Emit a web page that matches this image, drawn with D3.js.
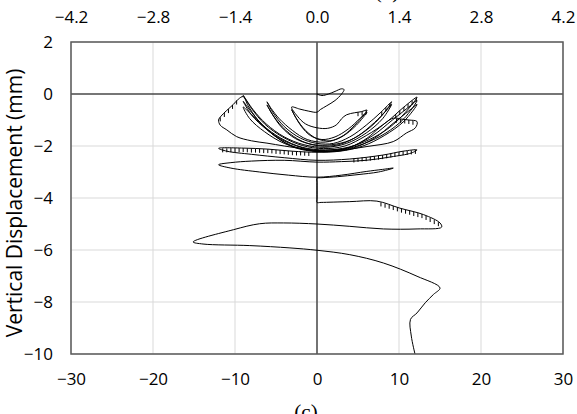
<!DOCTYPE html>
<html>
<head>
<meta charset="utf-8">
<script src="https://cdn.jsdelivr.net/npm/d3@7"></script>
<style>
  body { margin: 0; background: #fff; }
  text { font-family: "Open Sans", Lato, sans-serif; fill: #000; }
</style>
</head>
<body>
<svg id="chart" width="577" height="414"></svg>
<script>
// Axis ticks
const xTicks = [-30, -20, -10, 0, 10, 20, 30];
const topTicks = [-4.2, -2.8, -1.4, 0, 1.4, 2.8, 4.2];
const yTicks = [-10, -8, -6, -4, -2, 0, 2];

// Trace, split by loading stage: [horizontal mm, vertical mm]
const initialLoad = [
  [0, 0], [0.6, -0.06], [1.4, 0.0], [2.2, 0.1], [3.0, 0.2], [3.3, 0.17], [3.0, 0.0],
  [2.2, -0.25], [1.2, -0.45], [0.4, -0.6], [0.0, -0.7], [-1.0, -0.66], [-2.1, -0.58], [-3.1, -0.5]
];
const smallCycles = [
  [-2.4, -0.85], [-1.4, -1.15], [0, -1.3], [1.3, -1.32], [2.4, -1.18], [3.0, -0.95], [3.6, -0.8],
  [4.6, -0.72], [5.4, -0.68], [6.1, -0.62],
  [5.2, -0.95], [3.8, -1.35], [2.2, -1.65], [0.6, -1.75], [-0.8, -1.6], [-1.9, -1.25], [-2.6, -0.9], [-3.1, -0.6],
  [-2.5, -0.95], [-1.4, -1.4], [0, -1.72], [1.6, -1.8], [3.2, -1.6], [4.6, -1.2], [5.6, -0.85], [6.1, -0.7]
];
const midCycles = [
  [4.8, -1.2], [3, -1.65], [1, -1.85], [-1.2, -1.75], [-3, -1.4], [-4.6, -0.95], [-5.6, -0.55], [-6.1, -0.3],
  [-5.4, -0.7], [-4, -1.25], [-2, -1.7], [0, -1.9], [2, -1.9], [4, -1.65], [6, -1.2], [7.8, -0.7], [9.1, -0.3],
  [8, -0.8], [6.2, -1.35], [4, -1.78], [1.8, -1.95], [-0.4, -1.95], [-2.6, -1.72], [-4.4, -1.25], [-5.6, -0.7], [-6.1, -0.42],
  [-5.3, -0.85], [-3.8, -1.4], [-1.8, -1.82], [0.4, -2.0], [2.6, -1.95], [4.8, -1.65], [7, -1.1], [8.4, -0.65], [9.1, -0.4]
];
const largeCycles = [
  [8, -0.95], [6, -1.5], [3.6, -1.9], [1, -2.05], [-1.6, -1.95], [-4, -1.65], [-6.2, -1.15], [-7.8, -0.6], [-9, -0.05],
  [-8, -0.55], [-6.4, -1.15], [-4.2, -1.65], [-1.8, -1.98], [0.8, -2.1], [3.4, -2.0], [6, -1.6], [8.6, -1.05], [10.6, -0.5], [12.2, -0.12],
  [10.8, -0.7], [8.8, -1.3], [6.4, -1.75], [3.8, -2.05], [1, -2.15], [-1.8, -2.05], [-4.4, -1.7], [-6.6, -1.2], [-8, -0.7], [-9, -0.28],
  [-8, -0.8], [-6.2, -1.35], [-4, -1.8], [-1.4, -2.1], [1.2, -2.2], [4, -2.05], [6.8, -1.6], [9.2, -1.0], [11, -0.55], [12.2, -0.25],
  [10.6, -0.95], [8.4, -1.5], [5.8, -1.9], [3, -2.15], [0.2, -2.2], [-2.6, -2.05], [-5, -1.65], [-7, -1.1], [-8.3, -0.7], [-9, -0.5],
  [-8.2, -0.95], [-6.4, -1.45], [-4, -1.9], [-1.2, -2.15], [1.4, -2.22], [4.2, -2.1], [7, -1.7], [9.4, -1.1], [11.2, -0.65], [12.2, -0.4],
  [10.6, -1.05], [8.2, -1.6], [5.6, -2.0], [2.8, -2.2], [0, -2.22], [-2.8, -2.05], [-5.2, -1.6], [-7.2, -1.0], [-8.4, -0.45], [-9, -0.1]
];
const outerCycles = [
  [-9.6, -0.2], [-10.2, -0.4], [-11, -0.63], [-11.7, -0.85], [-12, -1.0], [-11.8, -1.2], [-11, -1.38], [-9.8, -1.64],
  [-8, -1.8], [-6.1, -1.89], [-4, -2.0], [-2.1, -2.09], [0, -2.17], [2, -2.15], [4, -2.05], [6.1, -1.7], [7.6, -1.3],
  [9.3, -0.93], [10.2, -0.96], [11.2, -1.0], [12.2, -1.06], [12, -1.3], [10.9, -1.5], [9.3, -1.83], [6.1, -2.02],
  [2, -2.2], [0, -2.24]
];
const flatLoops = [
  [-3, -2.2], [-6, -2.12], [-9, -2.08], [-12, -2.09], [-11, -2.2], [-8, -2.32], [-4, -2.45], [0, -2.55], [4, -2.5],
  [8, -2.35], [10.5, -2.2], [12.2, -2.15], [11.5, -2.27], [9, -2.42], [6, -2.55], [3, -2.6], [0, -2.62], [-4, -2.55],
  [-8, -2.58], [-10.5, -2.64], [-12, -2.72], [-10.5, -2.85], [-7, -3.0], [-3.5, -3.12], [0, -3.2], [3, -3.12],
  [6, -2.98], [8, -2.9], [9.3, -2.85], [7.5, -3.0], [5, -3.1], [2.5, -3.18], [0.6, -3.22], [0, -3.24]
];
const lowerCycles = [
  [0, -3.4], [0, -4.0], [0, -4.17], [0.5, -4.17], [4.0, -4.14], [7.3, -4.12], [10.1, -4.39], [13, -4.64], [15, -4.96],
  [15.2, -5.12], [12.2, -5.19], [8.1, -5.19], [4, -5.09], [0, -5.0], [-4.1, -4.96], [-7, -4.99], [-10.2, -5.22],
  [-15.1, -5.69], [-13.9, -5.77], [-8.2, -5.83], [-3.3, -5.92], [0, -6.01], [4, -6.18], [8.1, -6.5], [12.2, -7.01],
  [15, -7.46], [14.2, -7.71], [13.2, -8.03], [12.2, -8.42], [11.4, -8.67], [11.5, -9.31], [11.95, -10.0]
];

// Small downward jumps in the record (the hatched look on loading branches)
const teethLower = [
  [7.8, -4.17], [8.3, -4.22], [8.8, -4.26], [9.3, -4.31], [9.8, -4.36], [10.3, -4.41], [10.8, -4.45], [11.3, -4.49],
  [11.8, -4.54], [12.3, -4.58], [12.8, -4.62], [13.3, -4.69], [13.8, -4.77], [14.3, -4.85], [14.8, -4.93]
];
const teethUpperRight = [[9.6, -0.78], [10.1, -0.64], [10.6, -0.5], [11.1, -0.38], [11.6, -0.26], [12.1, -0.14]];
const teethMidRight = [[7.9, -0.67], [8.4, -0.51], [8.9, -0.36]];
const teethSmallRight = [[5.0, -0.7], [5.5, -0.67], [6.0, -0.63]];
const teethOuterRight = [[9.7, -0.95], [10.2, -0.96], [10.7, -0.98], [11.2, -1.0], [11.7, -1.03]];
const teethOuterLeft = [[-9.8, -0.25], [-10.3, -0.42], [-10.8, -0.58], [-11.3, -0.73], [-11.8, -0.9]];
const teethFlatLeft = [
  [-11.5, -2.09], [-11, -2.09], [-10.5, -2.08], [-10, -2.08], [-9.5, -2.08], [-9, -2.08], [-8.5, -2.09], [-8, -2.1],
  [-7.5, -2.1], [-7, -2.11], [-6.5, -2.12], [-6, -2.12], [-5.5, -2.13], [-5, -2.15], [-4.5, -2.16], [-4, -2.17],
  [-3.5, -2.19], [-3, -2.2], [-2.5, -2.21], [-2, -2.21], [-1.5, -2.22], [-1, -2.23]
];
const teethFlatRight = [
  [4.5, -2.48], [5, -2.46], [5.5, -2.44], [6, -2.43], [6.5, -2.41], [7, -2.39], [7.5, -2.37], [8, -2.35],
  [8.5, -2.32], [9, -2.29], [9.5, -2.26], [10, -2.23], [10.5, -2.2], [11, -2.19], [11.5, -2.17], [12, -2.15]
];

const svg = d3.select('#chart');
const margin = { top: 42, right: 14, bottom: 60, left: 71 };
const width = 577 - margin.left - margin.right;
const height = 414 - margin.top - margin.bottom;

const x = d3.scaleLinear().domain([-30, 30]).range([0, width]);
const xTop = d3.scaleLinear().domain([-4.2, 4.2]).range([0, width]);
const y = d3.scaleLinear().domain([-10, 2]).range([height, 0]);

const g = svg.append('g').attr('transform', `translate(${margin.left},${margin.top})`);

// Gridlines
g.append('g').selectAll('line')
  .data(xTicks)
  .join('line')
  .attr('x1', d => x(d)).attr('x2', d => x(d))
  .attr('y1', 0).attr('y2', height)
  .attr('stroke', '#d9d9d9').attr('stroke-width', 1);
g.append('g').selectAll('line')
  .data(yTicks)
  .join('line')
  .attr('x1', 0).attr('x2', width)
  .attr('y1', d => y(d)).attr('y2', d => y(d))
  .attr('stroke', '#d9d9d9').attr('stroke-width', 1);

// Zero lines
g.append('line')
  .attr('x1', x(0)).attr('x2', x(0)).attr('y1', 0).attr('y2', height)
  .attr('stroke', '#333').attr('stroke-width', 1.3);
g.append('line')
  .attr('x1', 0).attr('x2', width).attr('y1', y(0)).attr('y2', y(0))
  .attr('stroke', '#000').attr('stroke-width', 1.2);

// Trace
const trace = [].concat(initialLoad, smallCycles, midCycles, largeCycles, outerCycles, flatLoops, lowerCycles);
const line = d3.line()
  .x(d => x(d[0]))
  .y(d => y(d[1]))
  .curve(d3.curveCatmullRom.alpha(0.5));

g.append('path')
  .datum(trace)
  .attr('fill', 'none')
  .attr('stroke', '#000')
  .attr('stroke-width', 1)
  .attr('d', line);

const teeth = [].concat(teethLower, teethUpperRight, teethMidRight, teethSmallRight,
  teethOuterRight, teethOuterLeft, teethFlatLeft, teethFlatRight);
g.append('g').selectAll('line')
  .data(teeth)
  .join('line')
  .attr('x1', d => x(d[0])).attr('x2', d => x(d[0]))
  .attr('y1', d => y(d[1])).attr('y2', d => y(d[1]) + 4)
  .attr('stroke', '#000').attr('stroke-width', 1);

// Plot border
g.append('rect')
  .attr('width', width).attr('height', height)
  .attr('fill', 'none').attr('stroke', '#595959').attr('stroke-width', 1.5);

// Axes (labels only)
const styleAxis = sel => {
  sel.select('.domain').remove();
  sel.selectAll('.tick line').remove();
  sel.selectAll('text').attr('font-size', '17px').attr('fill', '#000')
    .style('font-family', '"Open Sans", Lato, sans-serif');
};

g.append('g')
  .attr('transform', `translate(0,${height})`)
  .call(d3.axisBottom(x).tickValues(xTicks).tickSize(0).tickPadding(19))
  .call(styleAxis);

g.append('g')
  .call(d3.axisTop(xTop).tickValues(topTicks).tickSize(0).tickPadding(19).tickFormat(d3.format('.1f')))
  .call(styleAxis);

g.append('g')
  .call(d3.axisLeft(y).tickValues(yTicks).tickSize(0).tickPadding(18))
  .call(styleAxis);

// Axis title
svg.append('text')
  .attr('transform', `translate(22,${margin.top + height / 2 + 5}) rotate(-90)`)
  .attr('text-anchor', 'middle')
  .attr('font-size', '21px')
  .text('Vertical Displacement (mm)');

// Panel labels (cut by the frame, as in the source figure)
svg.append('text')
  .attr('x', 306).attr('y', 419)
  .attr('text-anchor', 'middle')
  .attr('font-size', '21px')
  .style('font-family', '"Liberation Serif", serif')
  .text('(c)');
svg.append('text')
  .attr('x', 387).attr('y', -2.5)
  .attr('text-anchor', 'middle')
  .attr('font-size', '21px')
  .style('font-family', '"Liberation Serif", serif')
  .text('(b)');
</script>
</body>
</html>
